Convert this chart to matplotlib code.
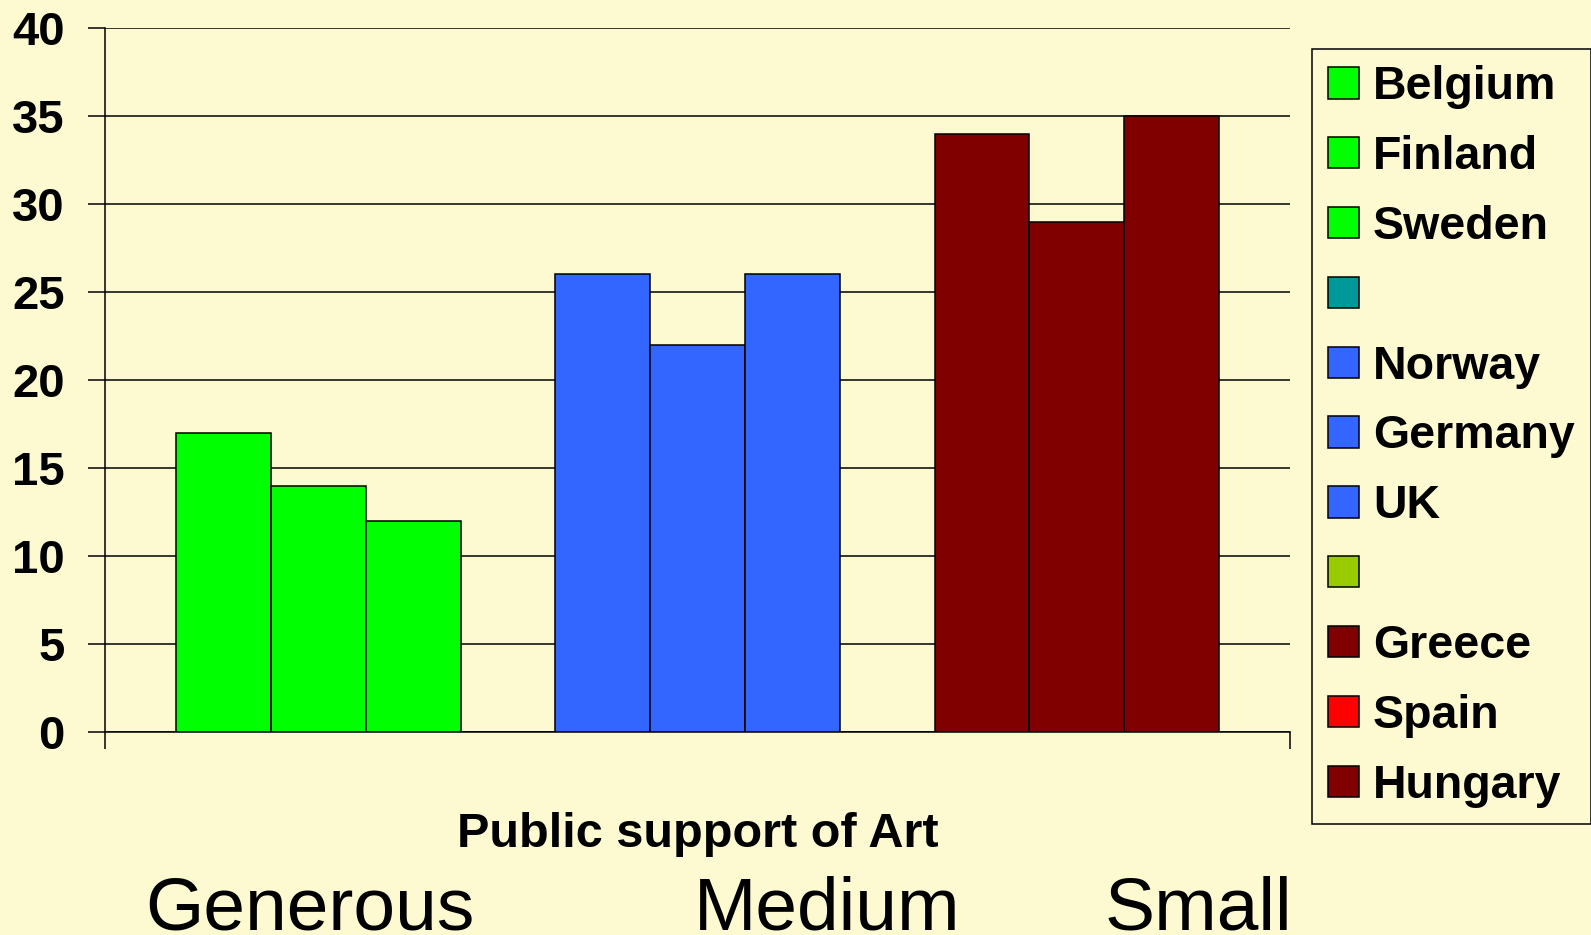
import matplotlib
matplotlib.use("Agg")
import matplotlib.pyplot as plt
from matplotlib.patches import Patch
from matplotlib.transforms import blended_transform_factory

# ---- data ----
series = ['Belgium', 'Finland', 'Sweden', '', 'Norway', 'Germany', 'UK', '', 'Greece', 'Spain', 'Hungary']
values = [17, 14, 12, 0, 26, 22, 26, 0, 34, 29, 35]
bar_colors = ['#00FF00', '#00FF00', '#00FF00', '#009999', '#3366FF', '#3366FF', '#3366FF',
              '#99CC00', '#800000', '#800000', '#800000']
legend_colors = ['#00FF00', '#00FF00', '#00FF00', '#009999', '#3366FF', '#3366FF', '#3366FF',
                 '#99CC00', '#800000', '#FF0000', '#800000']
categories = ['Generous', 'Medium', 'Small']
y_ticks = [0, 5, 10, 15, 20, 25, 30, 35, 40]
x_title = 'Public support of Art'

BG = '#FDF9D0'
plt.rcParams['font.family'] = ['Liberation Sans', 'DejaVu Sans']

W, H = 1591, 935
fig = plt.figure(figsize=(W / 100, H / 100), dpi=100, facecolor=BG)
ax = fig.add_axes([105 / W, 1 - 732 / H, (1290 - 105) / W, (732 - 28) / H])
ax.set_facecolor(BG)

xs = list(range(len(series)))
ax.bar(xs, values, width=1.0, color=bar_colors, edgecolor='black', linewidth=1.1, zorder=3)

ax.set_xlim(-1.25, len(series) - 1 + 1.25)
ax.set_ylim(0, 40)
ax.set_yticks(y_ticks)
ax.set_yticklabels([str(v) for v in y_ticks], fontsize=34, fontweight='bold')
ax.yaxis.grid(True, color='black', linewidth=1.1, zorder=1)
ax.set_axisbelow(True)
ax.tick_params(axis='y', direction='out', length=12, width=1.1, pad=17, colors='black')
ax.set_xticks([ax.get_xlim()[0], ax.get_xlim()[1]])
ax.set_xticklabels(['', ''])
ax.tick_params(axis='x', direction='out', length=12, width=1.1)
for s in ['top', 'right']:
    ax.spines[s].set_visible(False)
ax.spines['left'].set_linewidth(1.1)
ax.spines['bottom'].set_linewidth(1.1)

ax.set_xlabel(x_title, fontsize=35, fontweight='bold')
ax.xaxis.set_label_coords(0.5, (732 - 847) / (732 - 28))
ax.xaxis.label.set_va('baseline')

# category labels below the chart
trans = blended_transform_factory(ax.transData, fig.transFigure)
cat_x = [-0.83, 4.96, 9.29]
for c, x in zip(categories, cat_x):
    ax.text(x, 6 / H, c, transform=trans, fontsize=54, ha='left', va='baseline', clip_on=False)

handles = [Patch(facecolor=c, edgecolor='black', linewidth=1.1) for c in legend_colors]
leg = fig.legend(handles, series, loc='upper left',
                 bbox_to_anchor=(1312 / W, 1 - 49 / H), bbox_transform=fig.transFigure,
                 frameon=True, fancybox=False, edgecolor='black', facecolor=BG, framealpha=1,
                 prop={'family': 'Liberation Sans', 'weight': 'bold', 'size': 33.5},
                 handlelength=0.66, handleheight=0.66, handletextpad=0.3,
                 labelspacing=0.555, borderpad=0.35, borderaxespad=0)
leg.get_frame().set_linewidth(1.1)

fig.savefig('out.png', dpi=100, facecolor=BG)
